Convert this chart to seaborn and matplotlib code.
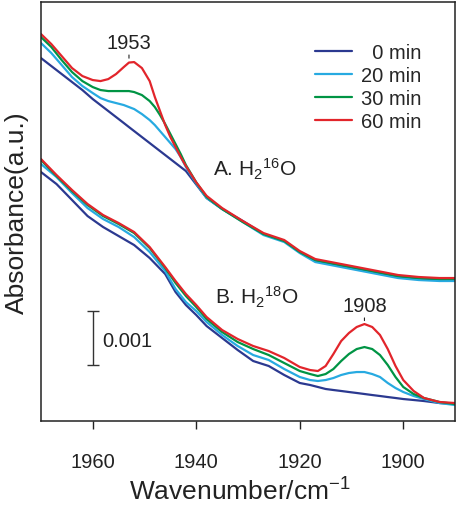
import numpy as np
import pandas as pd
import matplotlib
matplotlib.use("Agg")
import matplotlib.pyplot as plt
import seaborn as sns
from matplotlib.lines import Line2D

# ---------------- data (absorbance, in units of 0.001) ----------------
times = ["0 min", "20 min", "30 min", "60 min"]
legend_labels = ["  0 min", "20 min", "30 min", "60 min"]
xticks = [1960, 1940, 1920, 1900]
peak_labels = ["1953", "1908"]
scale_label = "0.001"

# A. H2(16)O
wn_A = [1970, 1968, 1966, 1964, 1962, 1960, 1958.5, 1957, 1955.5, 1954,
        1953, 1952, 1950.5, 1949, 1948, 1947, 1946, 1945, 1944, 1943,
        1942, 1940, 1938, 1935, 1931, 1927, 1923, 1920, 1917, 1913,
        1909, 1905, 1901, 1897, 1893, 1890]
A_0min = [6.722, 6.574, 6.426, 6.278, 6.130, 5.963, 5.852, 5.741, 5.630, 5.519,
          5.444, 5.370, 5.259, 5.148, 5.074, 5.000, 4.926, 4.852, 4.778, 4.704,
          4.630, 4.380, 4.130, 3.926, 3.704, 3.463, 3.333, 3.130, 2.963, 2.889,
          2.815, 2.741, 2.667, 2.630, 2.611, 2.611]
A_20min = [7.000, 6.815, 6.593, 6.370, 6.204, 6.074, 5.981, 5.926, 5.889, 5.852,
           5.815, 5.778, 5.685, 5.574, 5.481, 5.370, 5.259, 5.148, 5.037, 4.889,
           4.704, 4.400, 4.130, 3.926, 3.685, 3.444, 3.315, 3.111, 2.944, 2.870,
           2.796, 2.722, 2.648, 2.611, 2.593, 2.593]
A_30min = [7.111, 6.926, 6.685, 6.463, 6.296, 6.185, 6.130, 6.111, 6.111, 6.111,
           6.111, 6.093, 6.037, 5.926, 5.815, 5.667, 5.500, 5.315, 5.130, 4.944,
           4.741, 4.420, 4.150, 3.926, 3.685, 3.463, 3.333, 3.130, 2.981, 2.907,
           2.833, 2.759, 2.685, 2.648, 2.630, 2.630]
A_60min = [7.167, 6.981, 6.759, 6.537, 6.389, 6.315, 6.296, 6.333, 6.426, 6.556,
           6.639, 6.648, 6.537, 6.296, 6.000, 5.741, 5.481, 5.259, 5.074, 4.889,
           4.722, 4.420, 4.170, 3.944, 3.704, 3.481, 3.352, 3.148, 3.000, 2.926,
           2.852, 2.778, 2.704, 2.667, 2.648, 2.648]

# B. H2(18)O
wn_B = [1970, 1967, 1964, 1961, 1958, 1955, 1952, 1949, 1946, 1944,
        1942, 1940, 1938, 1935, 1932, 1929, 1926, 1923, 1920, 1918,
        1916.5, 1915, 1913.5, 1912, 1910.5, 1909, 1907.5, 1906, 1904.5, 1903,
        1901.5, 1900, 1898, 1896, 1893, 1890]
B_0min = [4.611, 4.389, 4.093, 3.796, 3.593, 3.426, 3.259, 3.019, 2.722, 2.389,
          2.148, 1.963, 1.759, 1.537, 1.315, 1.111, 1.019, 0.852, 0.704, 0.667,
          0.630, 0.593, 0.574, 0.556, 0.537, 0.519, 0.500, 0.481, 0.463, 0.444,
          0.426, 0.407, 0.389, 0.370, 0.333, 0.315]
B_20min = [4.759, 4.519, 4.222, 3.944, 3.741, 3.593, 3.407, 3.130, 2.778, 2.444,
           2.204, 2.037, 1.833, 1.593, 1.389, 1.222, 1.130, 0.963, 0.815, 0.759,
           0.741, 0.759, 0.796, 0.852, 0.889, 0.907, 0.907, 0.870, 0.815, 0.704,
           0.611, 0.537, 0.463, 0.407, 0.333, 0.296]
B_30min = [4.833, 4.537, 4.259, 4.000, 3.796, 3.648, 3.481, 3.204, 2.833, 2.556,
           2.315, 2.111, 1.889, 1.648, 1.463, 1.333, 1.222, 1.074, 0.926, 0.870,
           0.833, 0.870, 0.963, 1.111, 1.241, 1.333, 1.370, 1.333, 1.222, 1.037,
           0.815, 0.630, 0.500, 0.426, 0.352, 0.315]
B_60min = [4.852, 4.556, 4.278, 4.019, 3.815, 3.667, 3.500, 3.222, 2.852, 2.593,
           2.352, 2.148, 1.926, 1.685, 1.519, 1.389, 1.296, 1.167, 1.000, 0.944,
           0.926, 1.019, 1.241, 1.481, 1.630, 1.741, 1.796, 1.741, 1.593, 1.333,
           1.019, 0.759, 0.556, 0.426, 0.352, 0.333]

colors = ["#2b3990", "#27aae1", "#009444", "#e2252b"]

# ---------------- long table ----------------
series = [
    ("A", wn_A, [A_0min, A_20min, A_30min, A_60min]),
    ("B", wn_B, [B_0min, B_20min, B_30min, B_60min]),
]
frames = []
for grp, wn, vals_list in series:
    for t, vals in zip(times, vals_list):
        frames.append(pd.DataFrame({"wn": wn, "abs": vals, "time": t, "group": grp}))
df = pd.concat(frames, ignore_index=True)

# ---------------- plot ----------------
sns.set_theme(style="white")
plt.rcParams["font.family"] = ["Liberation Sans", "DejaVu Sans"]
plt.rcParams["mathtext.fontset"] = "custom"
plt.rcParams["mathtext.rm"] = "Liberation Sans"
plt.rcParams["mathtext.it"] = "Liberation Sans:italic"
plt.rcParams["mathtext.bf"] = "Liberation Sans:bold"

fig = plt.figure(figsize=(4.58, 5.06), dpi=100)
ax = fig.add_axes([0.0895, 0.166, 0.904, 0.828])

sns.lineplot(data=df, x="wn", y="abs", hue="time", hue_order=times,
             units="group", estimator=None, sort=False,
             palette=colors, linewidth=1.6, legend=False, ax=ax)

ax.set_xlim(1970, 1890)
ax.set_ylim(0, 7.76)
ax.set_xticks(xticks)
ax.set_yticks([])
ax.tick_params(axis="x", direction="out", length=6, width=1.0,
               color="#222222", labelsize=14.5, labelcolor="#222222",
               pad=16, bottom=True)
for s in ax.spines.values():
    s.set_color("#222222")
    s.set_linewidth(1.1)

ax.set_xlabel("Wavenumber/cm$^{-1}$", fontsize=19, color="#222222")
ax.xaxis.set_label_coords(0.48, -0.135)
ax.set_ylabel("Absorbance(a.u.)", fontsize=19, color="#222222")
ax.yaxis.set_label_coords(-0.03, 0.5)

# legend
handles = [Line2D([], [], color=c, lw=1.6) for c in colors]
ax.legend(handles, legend_labels, loc="upper left",
          bbox_to_anchor=(0.662, 0.902), frameon=False, fontsize=14.5,
          handlelength=1.85, handletextpad=0.45, labelspacing=0.2,
          borderpad=0, borderaxespad=0)

# peak annotations
ax.annotate(peak_labels[0], xy=(1953, 6.72), xytext=(1953, 6.84),
            ha="center", va="bottom", fontsize=14.5, color="#222222",
            arrowprops=dict(arrowstyle="-", lw=0.8, color="#222222",
                            shrinkA=0, shrinkB=0))
ax.annotate(peak_labels[1], xy=(1907.5, 1.86), xytext=(1907.5, 1.97),
            ha="center", va="bottom", fontsize=14.5, color="#222222",
            arrowprops=dict(arrowstyle="-", lw=0.8, color="#222222",
                            shrinkA=0, shrinkB=0))

# series labels
ax.text(1936.8, 4.54, "A. H$_2$$^{16}$O", fontsize=15, color="#222222",
        ha="left", va="baseline")
ax.text(1936.4, 2.17, "B. H$_2$$^{18}$O", fontsize=15, color="#222222",
        ha="left", va="baseline")

# scale bar
ax.errorbar([1960], [1.537], yerr=[0.5], color="#333333", capsize=4,
            elinewidth=1.0, capthick=1.0, fmt="none")
ax.text(1958.2, 1.5, scale_label, fontsize=14.5, color="#222222",
        ha="left", va="center")

fig.savefig("out.png", dpi=100)
